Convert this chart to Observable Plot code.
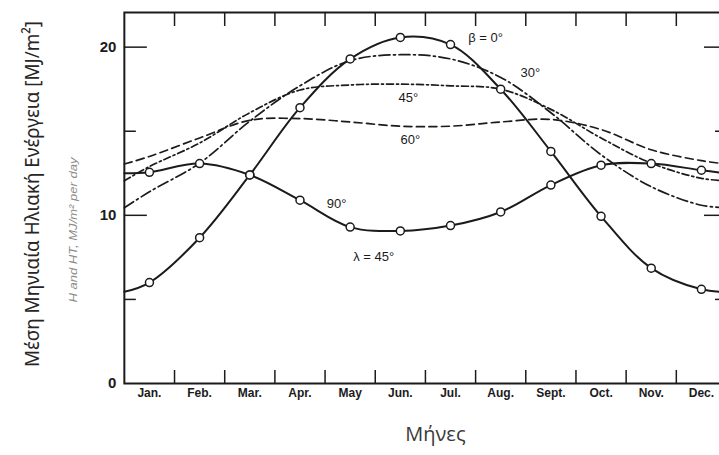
<!DOCTYPE html>
<html><head><meta charset="utf-8">
<script src="https://cdn.jsdelivr.net/npm/d3@7"></script>
<script src="https://cdn.jsdelivr.net/npm/@observablehq/plot@0.6"></script>
<style>
html,body{margin:0;padding:0;overflow:hidden;background:#fff;width:719px;height:455px}
</style>
</head><body><div id="chart"></div>
<script>
// ---- data ----
const months = ["Jan.", "Feb.", "Mar.", "Apr.", "May", "Jun.", "Jul.", "Aug.", "Sept.", "Oct.", "Nov.", "Dec."];
const seriesNames = ["0°", "30°", "45°", "60°", "90°"];
const beta0  = [6.0, 8.67, 12.4, 16.4, 19.3, 20.58, 20.15, 17.5, 13.8, 9.94, 6.86, 5.6];
const beta30 = [11.4, 13.1, 15.6, 17.7, 19.2, 19.55, 19.3, 18.2, 16.1, 13.6, 11.7, 10.6];
const beta45 = [12.9, 14.3, 16.1, 17.45, 17.75, 17.8, 17.7, 17.5, 16.3, 14.6, 13.1, 12.2];
const beta60 = [13.5, 14.6, 15.65, 15.75, 15.55, 15.3, 15.3, 15.55, 15.7, 15.1, 13.9, 13.25];
const beta90 = [12.56, 13.08, 12.4, 10.9, 9.3, 9.07, 9.39, 10.2, 11.8, 12.98, 13.08, 12.68];
// value of each curve at the Dec/Jan boundary (left and right edges of the chart)
const decJanBoundary = [5.45, 10.45, 12.05, 13.05, 12.5];
const yTickLabels = [0, 10, 20];
const yMajorTicks = [10, 20];
const yMinorTicks = [5, 15];
const monthBoundaries = d3.range(0.5, 11, 1);
const curveLabels = [
  {text: "β = 0°", month: 6.7, value: 20.54},
  {text: "30°", month: 7.59, value: 18.5},
  {text: "45°", month: 5.16, value: 16.96},
  {text: "60°", month: 5.2, value: 14.46},
  {text: "90°", month: 3.73, value: 10.71},
  {text: "λ = 45°", month: 4.47, value: 7.56}
];
const yTitle = "Μέση Μηνιαία Ηλιακή Ενέργεια [MJ/m²]";
const yTitle2 = "H and HT, MJ/m² per day";
const xTitle = "Μήνες";

// ---- build tables ----
const seriesValues = [beta0, beta30, beta45, beta60, beta90];
const table = [];
seriesNames.forEach((name, s) => {
  table.push({series: name, x: -0.5, y: decJanBoundary[s]});
  seriesValues[s].forEach((v, i) => table.push({series: name, x: i, y: v}));
  table.push({series: name, x: 11.5, y: decJanBoundary[s]});
});
const markerSeries = ["0°", "90°"];
const markers = table.filter(d => markerSeries.includes(d.series) && d.x >= 0 && d.x <= 11);

const ink = "#1b1b1b";
const lineStyle = {
  "0°":  {strokeWidth: 2},
  "30°": {strokeWidth: 1.7, strokeDasharray: "11,3.5,2,3.5"},
  "45°": {strokeWidth: 1.7, strokeDasharray: "7,3,2,3"},
  "60°": {strokeWidth: 1.7, strokeDasharray: "8,4.5"},
  "90°": {strokeWidth: 2}
};

const font = "Arial, 'Liberation Sans', Helvetica, sans-serif";
const chart = Plot.plot({
  width: 726, height: 455,
  marginTop: 12, marginBottom: 72, marginLeft: 123.85, marginRight: 0,
  style: {maxWidth: "none", fontFamily: font, color: ink, background: "white", overflow: "visible"},
  x: {domain: [-0.5, 11.5]},
  y: {domain: [0, 22.06]},
  marks: [
    ...seriesNames.map(name => Plot.line(table.filter(d => d.series === name), {
      x: "x", y: "y", curve: "catmull-rom", stroke: ink, ...lineStyle[name]
    })),
    Plot.dot(markers, {x: "x", y: "y", r: 4, fill: "white", stroke: ink, strokeWidth: 1.5}),
    Plot.frame({stroke: ink, strokeWidth: 2}),
    Plot.axisX(monthBoundaries, {anchor: "top", tickSize: -13, tickFormat: () => "", label: null, strokeWidth: 1.5}),
    Plot.axisX(monthBoundaries, {anchor: "bottom", tickSize: -13, tickFormat: () => "", label: null, strokeWidth: 1.5}),
    Plot.axisX(d3.range(12), {anchor: "bottom", tickSize: 0, tickPadding: 5, tickFormat: i => months[i], label: null, fontSize: 12, fontWeight: "bold"}),
    Plot.axisY(yMajorTicks, {anchor: "left", tickSize: -23, tickFormat: () => "", label: null, strokeWidth: 1.5}),
    Plot.axisY(yMinorTicks, {anchor: "left", tickSize: -12, tickFormat: () => "", label: null, strokeWidth: 1.5}),
    Plot.axisY(yMajorTicks, {anchor: "right", tickSize: -23, tickFormat: () => "", label: null, strokeWidth: 1.5}),
    Plot.axisY(yMinorTicks, {anchor: "right", tickSize: -12, tickFormat: () => "", label: null, strokeWidth: 1.5}),
    Plot.axisY(yTickLabels, {anchor: "left", tickSize: 0, tickPadding: 8, label: null, fontSize: 15, fontWeight: "bold"}),
    Plot.text(curveLabels, {x: "month", y: "value", text: "text", fontSize: 13, fill: ink, textAnchor: "middle"}),
    Plot.text([yTitle], {frameAnchor: "left", dx: -92, dy: -4, rotate: -90, textAnchor: "middle", fontSize: 20, fill: "#262626",
      fontFamily: "'Noto Sans', 'Open Sans', sans-serif"}),
    Plot.text([yTitle2], {frameAnchor: "left", dx: -51, dy: 32, rotate: -90, textAnchor: "middle", fontSize: 11, fill: "#8a8a8a", fontStyle: "italic"}),
    Plot.text([xTitle], {frameAnchor: "bottom", dx: 10, dy: 57, fontSize: 20, fill: "#3a3a3a", fontFamily: "'Open Sans', 'Noto Sans', sans-serif"})
  ]
});
document.getElementById("chart").appendChild(chart);
// condense the rotated titles to the reference lengths
const svg = d3.select(chart);
svg.selectAll("text").filter(function() { return this.textContent === yTitle; })
  .attr("textLength", 346).attr("lengthAdjust", "spacingAndGlyphs");
svg.selectAll("text").filter(function() { return this.textContent === yTitle2; })
  .attr("textLength", 145).attr("lengthAdjust", "spacingAndGlyphs");
</script>
</body></html>
